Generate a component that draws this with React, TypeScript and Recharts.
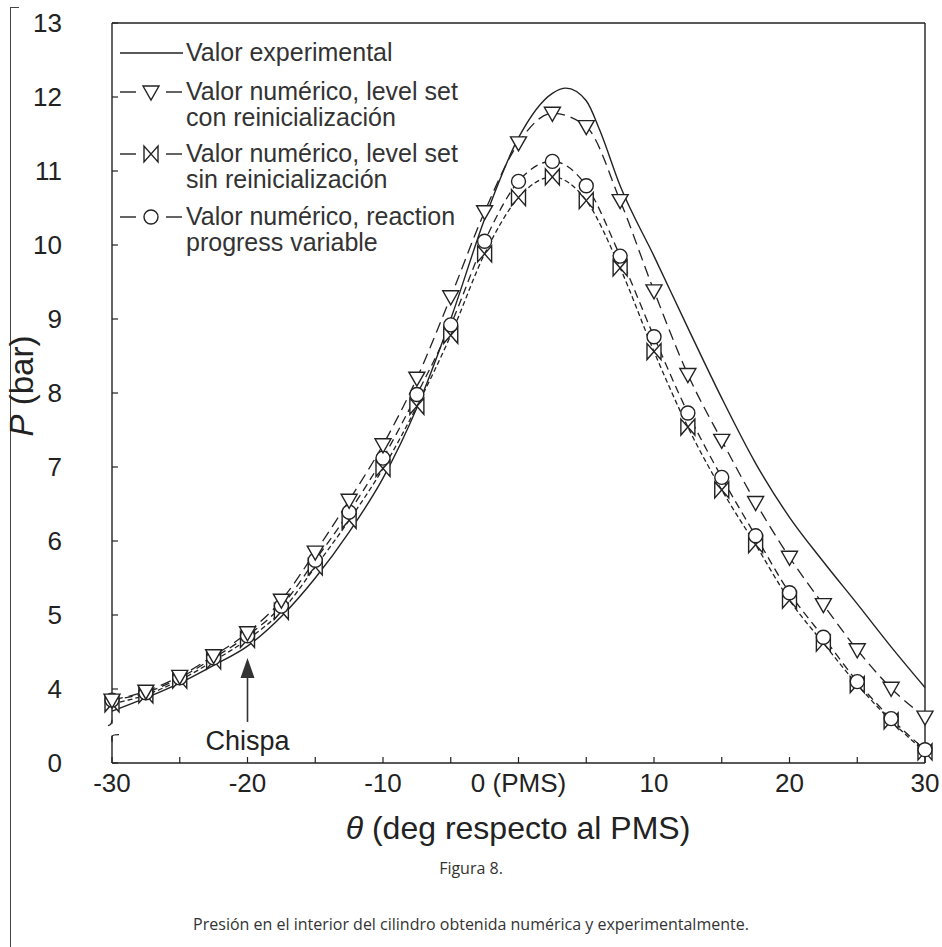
import React from "react";
import { LineChart, Line, XAxis, YAxis, ReferenceDot } from "recharts";

// ángulo de cigüeñal (deg respecto al PMS)
const theta = [
  -30, -27.5, -25, -22.5, -20, -17.5, -15, -12.5, -10, -7.5, -5, -2.5, 0,
  2.5, 5, 7.5, 10, 12.5, 15, 17.5, 20, 22.5, 25, 27.5, 30,
];

// curva experimental (sin marcadores)
const expTheta = [
  -30, -27.5, -25, -22.5, -20, -17.5, -15, -12.5, -10, -7.5, -5, -2.5, 0,
  2.5, 3.5, 5, 6, 7.5, 10, 12.5, 15, 17.5, 20, 22.5, 25, 27.5, 30,
];
const expP = [
  3.7, 3.88, 4.08, 4.32, 4.58, 4.98, 5.5, 6.12, 6.85, 7.8, 9.0, 10.35, 11.45,
  12.05, 12.12, 11.95, 11.55, 10.8, 9.85, 8.88, 7.93, 7.05, 6.32, 5.72, 5.15,
  4.57, 4.02,
];

// valores numéricos
const levelSetCon = [
  3.85, 3.97, 4.17, 4.45, 4.76, 5.2, 5.85, 6.55, 7.3, 8.2, 9.3, 10.45, 11.38,
  11.78, 11.6, 10.6, 9.38, 8.25, 7.36, 6.52, 5.78, 5.14, 4.53, 4.01, 3.62,
];
const levelSetSin = [
  3.8, 3.92, 4.12, 4.38, 4.67, 5.05, 5.65, 6.28, 6.98, 7.82, 8.78, 9.88, 10.64,
  10.92, 10.6, 9.69, 8.56, 7.54, 6.69, 5.95, 5.2, 4.62, 4.06, 3.57, 3.15,
];
const progressVar = [
  3.85, 3.95, 4.15, 4.42, 4.72, 5.12, 5.74, 6.39, 7.12, 7.98, 8.92, 10.05,
  10.86, 11.13, 10.8, 9.85, 8.76, 7.73, 6.86, 6.07, 5.3, 4.7, 4.1, 3.6, 3.18,
];

// eje y con corte: la posición 3 se rotula "0"
const yTicks = [3, 4, 5, 6, 7, 8, 9, 10, 11, 12, 13];
const xTicks = [-30, -25, -20, -15, -10, -5, 0, 5, 10, 15, 20, 25, 30];
const xLabels: Record<number, string> = {
  [-30]: "-30",
  [-20]: "-20",
  [-10]: "-10",
  0: "0 (PMS)",
  10: "10",
  20: "20",
  30: "30",
};

const INK = "#222";
const FONT = "'Liberation Sans', Arial, Helvetica, sans-serif";

const toRows = (xs: number[], ys: number[]) =>
  xs.map((t, i) => ({ theta: t, p: ys[i] }));

const Triangle = ({ cx, cy }: { cx: number; cy: number }) => (
  <path
    d={`M${cx - 8},${cy - 6}L${cx + 8},${cy - 6}L${cx},${cy + 8}Z`}
    fill="#fff"
    stroke={INK}
    strokeWidth={1.4}
  />
);

const Bowtie = ({ cx, cy }: { cx: number; cy: number }) => (
  <path
    d={`M${cx - 7},${cy - 8}L${cx - 7},${cy + 8}L${cx + 7},${cy - 8}L${cx + 7},${cy + 8}Z`}
    fill="#fff"
    stroke={INK}
    strokeWidth={1.4}
  />
);

const Ring = ({ cx, cy }: { cx: number; cy: number }) => (
  <circle cx={cx} cy={cy} r={7} fill="#fff" stroke={INK} strokeWidth={1.4} />
);

const BottomTick = (props: any) => {
  const { x, y, payload } = props;
  const label = xLabels[payload.value];
  return (
    <g>
      <line x1={x} x2={x} y1={y} y2={y - 6} stroke={INK} strokeWidth={1.2} />
      {label && (
        <text x={x} y={y + 29} textAnchor="middle" fontSize={26} fill={INK} fontFamily={FONT}>
          {label}
        </text>
      )}
    </g>
  );
};

const TopTick = (props: any) => {
  const { x, y } = props;
  return <line x1={x} x2={x} y1={y} y2={y + 6} stroke={INK} strokeWidth={1.2} />;
};

const LeftTick = (props: any) => {
  const { x, y, payload } = props;
  return (
    <g>
      <line x1={x} x2={x + 6} y1={y} y2={y} stroke={INK} strokeWidth={1.2} />
      <text x={x - 50} y={y + 9} textAnchor="end" fontSize={26} fill={INK} fontFamily={FONT}>
        {payload.value === 3 ? "0" : payload.value}
      </text>
    </g>
  );
};

const RightTick = (props: any) => {
  const { x, y } = props;
  return <line x1={x} x2={x - 6} y1={y} y2={y} stroke={INK} strokeWidth={1.2} />;
};

const Chispa = (props: any) => {
  const { cx, cy } = props;
  return (
    <g>
      <path d={`M${cx},${cy}L${cx - 7},${cy + 20}L${cx + 7},${cy + 20}Z`} fill="#333" />
      <line x1={cx} x2={cx} y1={cy + 18} y2={cy + 64} stroke="#333" strokeWidth={1.6} />
      <text x={cx} y={cy + 92} textAnchor="middle" fontSize={27} fill={INK} fontFamily={FONT}>
        Chispa
      </text>
    </g>
  );
};

// corte del eje y
const AxisBreak = (props: any) => {
  const { cx, cy } = props;
  return (
    <g fill="none" stroke={INK} strokeWidth={1.3}>
      <rect x={cx - 3} y={cy - 6} width={6} height={12} fill="#fff" stroke="none" />
      <path d={`M${cx},${cy - 10}Q${cx},${cy - 5} ${cx - 4},${cy - 4}`} />
      <path d={`M${cx},${cy + 12}L${cx},${cy + 7}Q${cx},${cy + 5} ${cx + 7},${cy + 5}`} />
    </g>
  );
};

const legendItems = [
  { kind: "line", lines: ["Valor experimental"], y: 53 },
  { kind: "tri", lines: ["Valor numérico, level set", "con reinicialización"], y: 92 },
  { kind: "bow", lines: ["Valor numérico, level set", "sin reinicialización"], y: 154 },
  { kind: "ring", lines: ["Valor numérico, reaction", "progress variable"], y: 217 },
];

function LegendBox() {
  return (
    <svg
      width={330}
      height={270}
      style={{ position: "absolute", left: 0, top: 0, overflow: "visible" }}
    >
      {legendItems.map((it) => (
        <g key={it.y}>
          {it.kind === "line" ? (
            <line x1={120} x2={183} y1={it.y} y2={it.y} stroke={INK} strokeWidth={1.4} />
          ) : (
            <g>
              <line x1={120} x2={136} y1={it.y} y2={it.y} stroke={INK} strokeWidth={1.4} />
              <line x1={166} x2={182} y1={it.y} y2={it.y} stroke={INK} strokeWidth={1.4} />
              {it.kind === "tri" && <Triangle cx={151} cy={it.y} />}
              {it.kind === "bow" && <Bowtie cx={151} cy={it.y} />}
              {it.kind === "ring" && <Ring cx={151} cy={it.y} />}
            </g>
          )}
          {it.lines.map((t, i) => (
            <text
              key={t}
              x={186}
              y={it.y + 8 + i * 26}
              fontSize={25}
              fill="#333"
              fontFamily={FONT}
            >
              {t}
            </text>
          ))}
        </g>
      ))}
    </svg>
  );
}

export default function App() {
  return (
    <div
      style={{
        position: "absolute",
        left: 0,
        top: 0,
        width: 942,
        height: 947,
        background: "#fff",
        overflow: "hidden",
      }}
    >
      <div
        style={{
          position: "absolute",
          left: 10,
          top: 7,
          width: 8,
          height: 960,
          borderLeft: "1.5px solid #444",
          borderTop: "1.5px solid #444",
        }}
      />
      <LineChart width={942} height={850} margin={{ top: 0, right: 0, bottom: 0, left: 0 }}>
        <XAxis
          dataKey="theta"
          type="number"
          domain={[-30, 30]}
          ticks={xTicks}
          interval={0}
          height={87}
          tickSize={0}
          tickMargin={0}
          tickLine={false}
          axisLine={{ stroke: INK, strokeWidth: 1.4 }}
          tick={<BottomTick />}
        />
        <XAxis
          xAxisId="top"
          orientation="top"
          dataKey="theta"
          type="number"
          domain={[-30, 30]}
          ticks={xTicks}
          interval={0}
          height={23}
          tickSize={0}
          tickMargin={0}
          tickLine={false}
          axisLine={{ stroke: INK, strokeWidth: 1.4 }}
          tick={<TopTick />}
        />
        <YAxis
          type="number"
          domain={[3, 13]}
          ticks={yTicks}
          interval={0}
          width={112}
          tickSize={0}
          tickMargin={0}
          tickLine={false}
          axisLine={{ stroke: INK, strokeWidth: 1.4 }}
          tick={<LeftTick />}
        />
        <YAxis
          yAxisId="right"
          orientation="right"
          type="number"
          domain={[3, 13]}
          ticks={yTicks}
          interval={0}
          width={17}
          tickSize={0}
          tickMargin={0}
          tickLine={false}
          axisLine={{ stroke: INK, strokeWidth: 1.4 }}
          tick={<RightTick />}
        />
        <Line
          data={toRows(expTheta, expP)}
          dataKey="p"
          type="monotone"
          stroke={INK}
          strokeWidth={1.4}
          dot={false}
          isAnimationActive={false}
        />
        <Line
          data={toRows(theta, levelSetSin)}
          dataKey="p"
          type="monotone"
          stroke={INK}
          strokeWidth={1.3}
          strokeDasharray="5 3"
          dot={(p: any) => <Bowtie key={`b-${p.index}`} cx={p.cx} cy={p.cy} />}
          isAnimationActive={false}
        />
        <Line
          data={toRows(theta, progressVar)}
          dataKey="p"
          type="monotone"
          stroke={INK}
          strokeWidth={1.3}
          strokeDasharray="8 5"
          dot={(p: any) => <Ring key={`c-${p.index}`} cx={p.cx} cy={p.cy} />}
          isAnimationActive={false}
        />
        <Line
          data={toRows(theta, levelSetCon)}
          dataKey="p"
          type="monotone"
          stroke={INK}
          strokeWidth={1.3}
          strokeDasharray="11 6"
          dot={(p: any) => <Triangle key={`t-${p.index}`} cx={p.cx} cy={p.cy} />}
          isAnimationActive={false}
        />
        <ReferenceDot x={-20} y={4.42} shape={<Chispa />} />
        <ReferenceDot x={-30} y={3.45} shape={<AxisBreak />} />
      </LineChart>
      <LegendBox />
      <div
        style={{
          position: "absolute",
          left: 0,
          width: 1036,
          top: 808,
          textAlign: "center",
          fontFamily: FONT,
          fontSize: 32,
          color: INK,
          lineHeight: "40px",
        }}
      >
        <i>θ</i> (deg respecto al PMS)
      </div>
      <div
        style={{
          position: "absolute",
          left: 22 - 100,
          top: 386 - 20,
          width: 200,
          textAlign: "center",
          transform: "rotate(-90deg)",
          fontFamily: FONT,
          fontSize: 33,
          color: INK,
          lineHeight: "40px",
        }}
      >
        <i>P</i> (bar)
      </div>
      <div
        style={{
          position: "absolute",
          left: 0,
          width: 942,
          top: 857,
          textAlign: "center",
          fontFamily: "'Open Sans', 'Noto Sans', sans-serif",
          fontSize: 16,
          color: "#333",
          lineHeight: "22px",
        }}
      >
        Figura 8.
      </div>
      <div
        style={{
          position: "absolute",
          left: 0,
          width: 942,
          top: 913,
          textAlign: "center",
          fontFamily: "'Open Sans', 'Noto Sans', sans-serif",
          fontSize: 16,
          color: "#333",
          lineHeight: "22px",
        }}
      >
        Presión en el interior del cilindro obtenida numérica y experimentalmente.
      </div>
    </div>
  );
}
